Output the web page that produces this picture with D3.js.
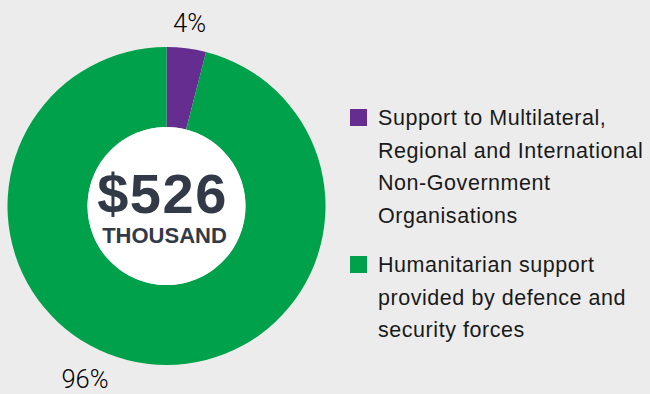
<!DOCTYPE html>
<html><head><meta charset="utf-8">
<script src="https://cdn.jsdelivr.net/npm/d3@7"></script>
<style>
html,body{margin:0;padding:0;background:#ececec;}
svg{display:block;}
</style></head>
<body>
<svg id="c" width="650" height="394"></svg>
<script>
const categories = ["Support to Multilateral, Regional and International Non-Government Organisations", "Humanitarian support provided by defence and security forces"];
const values = [4, 96];
const pctLabels = ["4%", "96%"];
const colors = ["#662d91", "#00a14b"];
const legendLines = [
  ["Support to Multilateral,", "Regional and International", "Non-Government", "Organisations"],
  ["Humanitarian support", "provided by defence and", "security forces"]
];
const centerValue = "$526";
const centerUnit = "THOUSAND";

const svg = d3.select("#c");
const cx = 166.5, cy = 206, R = 159, r = 79;
const g = svg.append("g").attr("transform", `translate(${cx},${cy})`);
const pie = d3.pie().sort(null).value(d => d)(values);
const arc = d3.arc().innerRadius(r).outerRadius(R);
g.selectAll("path").data(pie).join("path")
  .attr("d", arc).attr("fill", (d,i) => colors[i]);
g.append("circle").attr("r", r).attr("fill", "#ffffff");

g.append("text").text(centerValue).attr("x", -4).attr("y", 7)
  .attr("text-anchor", "middle").attr("font-family", "Liberation Sans, Arial, sans-serif")
  .attr("font-weight", "bold").attr("font-size", 56).attr("letter-spacing", 1.5).attr("fill", "#323a48");
g.append("text").text(centerUnit).attr("x", -2).attr("y", 37)
  .attr("text-anchor", "middle").attr("font-family", "Liberation Sans, Arial, sans-serif")
  .attr("font-weight", "bold").attr("font-size", 22).attr("fill", "#323a48");

// percentage labels
const labelPos = [[189.5, 32], [85, 388]];
svg.selectAll("text.pct").data(pctLabels).join("text").attr("class", "pct")
  .attr("x", (d,i) => labelPos[i][0]).attr("y", (d,i) => labelPos[i][1])
  .attr("text-anchor", "middle").attr("font-family", "Roboto, sans-serif")
  .attr("font-weight", 300).attr("font-size", 25.5).attr("fill", "#000000").text(d => d);

// legend
const legTop = [109, 256];
const lineH = 32.7;
categories.forEach((c, i) => {
  svg.append("rect").attr("x", 350).attr("y", legTop[i]).attr("width", 17).attr("height", 17).attr("fill", colors[i]);
  legendLines[i].forEach((ln, j) => {
    svg.append("text").attr("x", 378).attr("y", legTop[i] + 16 + j * lineH)
      .attr("font-family", "Liberation Sans, Arial, sans-serif").attr("font-size", 21.5)
      .attr("letter-spacing", 0.55)
      .attr("fill", "#1a1a1a").text(ln);
  });
});
</script>
</body></html>
